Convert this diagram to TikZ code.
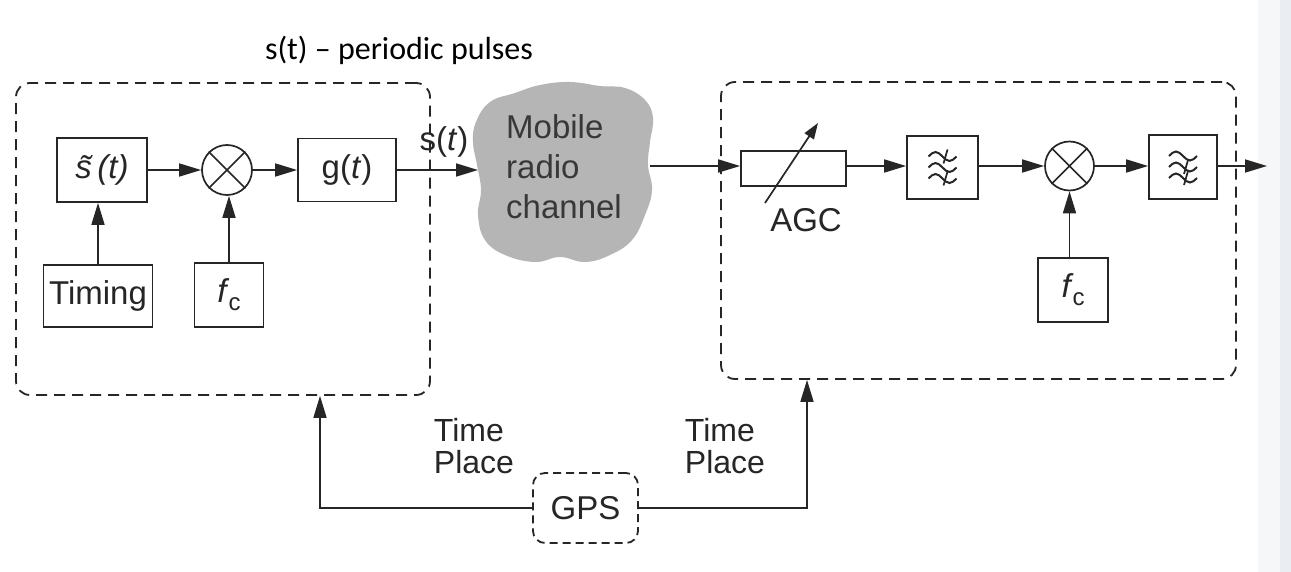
\documentclass[tikz,border=0pt]{standalone}
\usepackage{fontspec}
\setmainfont{Liberation Sans}
\newfontfamily\calibri{Carlito}
\usetikzlibrary{arrows.meta,calc}
\definecolor{edgeA}{RGB}{246,247,249}
\definecolor{edgeB}{RGB}{234,237,241}
\begin{document}
\begin{tikzpicture}[x=1pt,y=-1pt,
  every node/.style={font=\fontsize{33}{35}\selectfont, text=black!85},
  blk/.style={draw=black!85, line width=1.7pt, inner sep=0pt},
  mixer/.style={circle, draw=black!85, line width=1.7pt, inner sep=0pt},
  dbox/.style={draw=black!85, line width=1.8pt, dash pattern=on 11pt off 7pt, rounded corners=14pt, inner sep=0pt},
  arr/.style={draw=black!85, line width=1.7pt, -{Triangle[length=22pt,width=13pt]}},
  ln/.style={draw=black!85, line width=1.7pt},
  wave/.pic={\draw[line width=2pt, black!85] (-14,0) sin (-7,-4.5) cos (0,0) sin (7,4.5) cos (14,0);},
  wavex/.pic={\draw[line width=2pt, black!85] (-14,0) sin (-7,-4.5) cos (0,0) sin (7,4.5) cos (14,0);
              \draw[line width=1.7pt, black!85] (1,7) -- (5,-7);}
]
\useasboundingbox[fill=white] (0,0) rectangle (1291,572);
\fill[edgeA] (1258,0) rectangle (1291,572);
\fill[edgeB] (1280,0) rectangle (1291,572);

% title
\node[font=\calibri\fontsize{32}{34}\selectfont, text=black] (title) at (399,50) {s(t) – periodic pulses};

% containers
\node[dbox, minimum width=414pt, minimum height=312pt] (tx) at (223,239) {};
\node[dbox, minimum width=515pt, minimum height=297pt] (rx) at (978.5,230.5) {};
\node[dbox, rounded corners=12pt, dash pattern=on 8pt off 5pt, minimum width=105pt, minimum height=70pt] (gps) at (585.5,508) {GPS};

% transmitter
\node[blk, minimum width=90pt, minimum height=64pt] (st) at (102,170) {\~{\itshape s}\,(\textit{t})};
\node[blk, minimum width=109pt, minimum height=62pt] (timing) at (98,296) {Timing};
\node[mixer, minimum size=50pt] (m1) at (227,170) {};
\draw[ln] (m1.north west) -- (m1.south east) (m1.north east) -- (m1.south west);
\node[blk, minimum width=69pt, minimum height=64pt] (fc1) at (229,295) {\textit{f}\kern-1pt\raisebox{-8pt}{\fontsize{24}{24}\selectfont c}};
\node[blk, minimum width=98pt, minimum height=63pt] (g) at (347,170) {g(\textit{t})};

% channel cloud
\fill[gray!58] plot[smooth cycle, tension=0.7] coordinates {(476,122) (490,102) (515,93) (540,85) (570,82) (600,86) (625,88) (645,100) (653,118) (650,142) (648,165) (652,190) (645,215) (632,240) (610,255) (585,262) (560,257) (535,262) (505,255) (485,240) (478,215) (481,190) (477,165) (473,142)};
\node[align=left, text=black!78, font=\fontsize{33}{40}\selectfont, inner sep=0pt] (ch) at (564,167) {Mobile\\radio\\channel};
\coordinate (chin) at (478,170);
\coordinate (chout) at (650,166);
\node (slab) at (444,142) {s(\textit{t})};

% receiver
\node[blk, minimum width=105pt, minimum height=35pt] (att) at (793.5,168.5) {};
\draw[ln, -{Triangle[length=16pt,width=11pt]}] ([shift={(-28.5,34.5)}]att.center) -- ([shift={(24.5,-45.5)}]att.center);
\node (agc) at (806,220) {AGC};
\node[blk, minimum width=71pt, minimum height=63pt] (f1) at (942.5,167.5) {};
\pic at ([yshift=-11pt]f1.center) {wavex};
\pic at (f1.center) {wave};
\pic at ([yshift=11pt]f1.center) {wavex};
\node[mixer, minimum size=49pt] (m2) at (1069.5,166) {};
\draw[ln] (m2.north west) -- (m2.south east) (m2.north east) -- (m2.south west);
\node[blk, minimum width=70pt, minimum height=64pt] (fc2) at (1073,290) {\textit{f}\kern-1pt\raisebox{-8pt}{\fontsize{24}{24}\selectfont c}};
\node[blk, minimum width=68pt, minimum height=64pt] (f2) at (1183,167) {};
\pic at ([yshift=-11pt]f2.center) {wavex};
\pic at (f2.center) {wavex};
\pic at ([yshift=11pt]f2.center) {wave};
\coordinate (out) at (1267,166);

% connectors
\draw[arr] (timing.north) -- (timing.north |- st.south);
\draw[arr] (st.east) -- (st.east -| m1.west);
\draw[arr] (fc1.north) -- (fc1.north |- m1.south);
\draw[arr] (m1.east) -- (m1.east -| g.west);
\draw[arr] (g.east) -- (g.east -| chin);
\draw[arr] (chout) -- (chout -| att.west);
\draw[arr] (att.east |- chout) -- (chout -| f1.west);
\draw[arr] (f1.east |- chout) -- (chout -| m2.west);
\draw[arr] (fc2.north -| m2.south) -- (m2.south);
\draw[arr] (m2.east) -- (m2.east -| f2.west);
\draw[arr] (f2.east |- out) -- (out);
\draw[arr] (gps.west) -| ([xshift=97pt]tx.south);
\draw[arr] (gps.east) -| ([xshift=-171.5pt]rx.south);

% labels
\node[align=left, font=\fontsize{32}{32}\selectfont] (tp1) at (474,446) {Time\\Place};
\node[align=left, font=\fontsize{32}{32}\selectfont] (tp2) at (725,446) {Time\\Place};
\end{tikzpicture}
\end{document}
